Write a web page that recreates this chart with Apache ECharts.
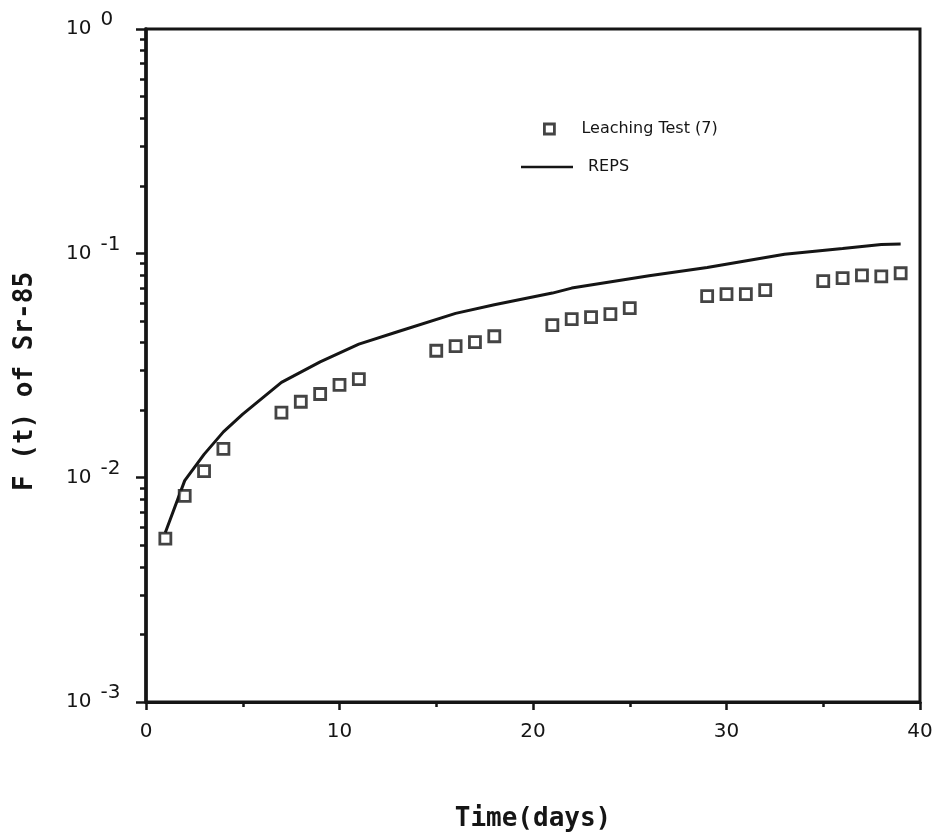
<!DOCTYPE html>
<html>
<head>
<meta charset="utf-8">
<script src="https://cdn.jsdelivr.net/npm/echarts@6/dist/echarts.min.js"></script>
<style>
  html, body { margin: 0; padding: 0; background: #fff; }
  #chart { width: 939px; height: 840px; }
</style>
</head>
<body>
<div id="chart"></div>
<script>
// measured points, Leaching Test (7)
var testDays = [1, 2, 3, 4, 7, 8, 9, 10, 11, 15, 16, 17, 18, 21, 22, 23, 24, 25, 29, 30, 31, 32, 35, 36, 37, 38, 39];
var testValues = [0.00535, 0.0083, 0.0107, 0.01345, 0.0195, 0.0218, 0.0236, 0.0259, 0.0275,
  0.0368, 0.0386, 0.0402, 0.0427, 0.0479, 0.0509, 0.052, 0.0536, 0.057,
  0.0644, 0.0658, 0.0658, 0.0685, 0.0752, 0.0775, 0.0798, 0.079, 0.0815];

// REPS model curve
var repsDays = [1, 2, 3, 4, 5, 7, 9, 11, 13, 16, 18, 21, 22, 26, 29, 33, 36, 38, 39];
var repsValues = [0.0057, 0.0097, 0.0127, 0.016, 0.0192, 0.0266, 0.0328, 0.0394, 0.0447,
  0.054, 0.059, 0.0665, 0.07, 0.0795, 0.0864, 0.099, 0.105, 0.1096, 0.11];

// axes
var yMin = 0.001, yMax = 1;
var minorTicks = [0.002, 0.003, 0.004, 0.005, 0.006, 0.007, 0.008, 0.009,
  0.02, 0.03, 0.04, 0.05, 0.06, 0.07, 0.08, 0.09,
  0.2, 0.3, 0.4, 0.5, 0.6, 0.7, 0.8, 0.9];
var xTicks = [0, 10, 20, 30, 40];

var ink = '#151515';
var font = 'DejaVu Sans';

function zip(a, b) {
  return a.map(function (v, i) { return [v, b[i]]; });
}

var option = {
  backgroundColor: '#fff',
  animation: false,
  grid: {
    left: 146, right: 19, top: 29, bottom: 138,
    show: true, borderColor: ink, borderWidth: 3
  },
  legend: [{
    left: 538, top: 116,
    itemWidth: 10, itemHeight: 10,
    itemStyle: { borderWidth: 2.8, borderColor: ink, color: '#fff' },
    textStyle: { fontFamily: font, fontSize: 16, color: ink, padding: [0, 0, 0, 22] },
    data: ['Leaching Test (7)']
  }, {
    left: 516, top: 154,
    itemWidth: 52, itemHeight: 2.5,
    textStyle: { fontFamily: font, fontSize: 16, color: ink, padding: [0, 0, 0, 10] },
    data: [{ name: 'REPS', icon: 'rect' }]
  }],
  xAxis: {
    type: 'value',
    min: 0, max: 40, interval: 10,
    name: 'Time(days)',
    nameLocation: 'middle',
    nameGap: 104,
    nameTextStyle: { fontFamily: 'DejaVu Sans Mono', fontWeight: 'bold', fontSize: 26, color: ink },
    splitLine: { show: false },
    axisLine: { lineStyle: { color: ink, width: 3 } },
    axisTick: { length: 8, lineStyle: { color: ink, width: 2.5 } },
    minorTick: { show: true, splitNumber: 2, length: 5, lineStyle: { color: ink, width: 2.5 } },
    axisLabel: {
      margin: 20, fontFamily: font, fontSize: 20, color: ink,
      formatter: function (v) { return xTicks.indexOf(v) >= 0 ? String(v) : ''; }
    }
  },
  yAxis: [{
    type: 'log',
    logBase: 10,
    min: yMin, max: yMax,
    name: 'F (t) of Sr-85',
    nameLocation: 'middle',
    nameGap: 108,
    nameTextStyle: {
      fontFamily: 'DejaVu Sans Mono', fontWeight: 'bold', fontSize: 26, color: ink,
      padding: [0, 32, 0, 0]
    },
    splitLine: { show: false },
    axisLine: { lineStyle: { color: ink, width: 3.5 } },
    axisTick: { length: 10, lineStyle: { color: ink, width: 2.5 } },
    axisLabel: {
      margin: 80, align: 'left',
      formatter: function (v) {
        var e = Math.round(Math.log(v) / Math.LN10);
        return '{b|10}{s|' + e + '}';
      },
      rich: {
        b: { fontFamily: font, fontSize: 20, color: ink },
        s: { fontFamily: font, fontSize: 20, color: ink, padding: [0, 0, 18, 9] }
      }
    }
  }, {
    type: 'log',
    logBase: 10,
    min: yMin, max: yMax,
    position: 'left',
    axisLine: { show: false },
    splitLine: { show: false },
    axisLabel: { show: false },
    axisTick: { length: 6, customValues: minorTicks, lineStyle: { color: ink, width: 2.5 } }
  }],
  series: [{
    name: 'Leaching Test (7)',
    type: 'scatter',
    symbol: 'rect',
    symbolSize: 11,
    itemStyle: { color: '#fff', borderColor: ink, borderWidth: 2.8 },
    data: zip(testDays, testValues),
    z: 3
  }, {
    name: 'REPS',
    type: 'line',
    symbol: 'none',
    showSymbol: false,
    lineStyle: { color: ink, width: 3 },
    itemStyle: { color: ink },
    data: zip(repsDays, repsValues),
    z: 2
  }]
};

var myChart = echarts.init(document.getElementById('chart'));
myChart.setOption(option);
</script>
</body>
</html>
